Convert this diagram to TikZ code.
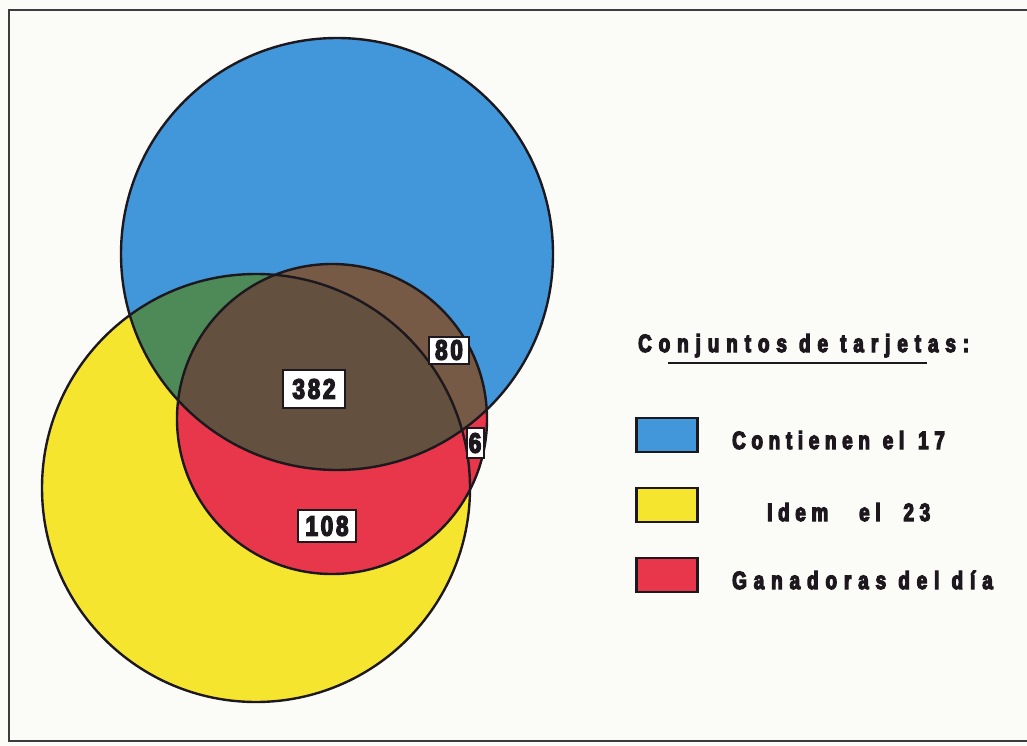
\documentclass[tikz,border=0pt]{standalone}
\usepackage{fontspec}
\setmainfont{Liberation Sans}
\newfontfamily\lblfont{Liberation Sans Bold}[FakeStretch=0.75,LetterSpace=23,FakeBold=5]
\newfontfamily\numfont{Liberation Sans Bold}[FakeStretch=0.8,LetterSpace=10,FakeBold=5]
\definecolor{bg}{RGB}{251,251,247}
\definecolor{blueC}{RGB}{66,150,218}
\definecolor{yellowC}{RGB}{246,229,46}
\definecolor{greenC}{RGB}{78,138,88}
\definecolor{redC}{RGB}{232,54,74}
\definecolor{brownA}{RGB}{100,80,62}
\definecolor{brownB}{RGB}{118,90,70}
\definecolor{inkC}{RGB}{28,24,30}
\tikzset{
  numbox/.style={draw=inkC, fill=white, line width=2pt, inner sep=0pt,
    font=\numfont\fontsize{28}{28}\selectfont, text=inkC},
  legtext/.style={anchor=base west, inner sep=0pt, text=inkC,
    font=\lblfont\fontsize{25}{25}\selectfont},
  swatch/.style={draw=inkC, line width=2.2pt, minimum width=61pt, minimum height=34pt, inner sep=0pt},
  outline/.style={draw=inkC, line width=2.4pt}
}
\begin{document}
\begin{tikzpicture}[x=1pt,y=-1pt]
\useasboundingbox (0,0) rectangle (1027,746);
\fill[bg] (0,0) rectangle (1027,746);
% frame
\draw[inkC!85, line width=2.4pt] (1027,10) -- (9,10) -- (9,741) -- (1027,741);
% circle centres
\coordinate (B) at (337,254);
\coordinate (Y) at (256,488);
\coordinate (R) at (332,419);
% fills
\fill[yellowC] (Y) circle[radius=214pt];
\fill[blueC] (B) circle[radius=216pt];
\begin{scope}
  \clip (B) circle[radius=216pt];
  \fill[greenC] (Y) circle[radius=214pt];
\end{scope}
\fill[redC] (R) circle[radius=155pt];
\begin{scope}
  \clip (R) circle[radius=155pt];
  \fill[brownB] (B) circle[radius=216pt];
  \clip (B) circle[radius=216pt];
  \fill[brownA] (Y) circle[radius=214pt];
\end{scope}
% outlines
\draw[outline] (Y) circle[radius=214pt];
\draw[outline] (B) circle[radius=216pt];
\draw[outline] (R) circle[radius=155pt];
% number labels
\node[numbox, minimum width=62pt, minimum height=38pt] (n382) at (314,389) {382};
\node[numbox, minimum width=40pt, minimum height=27pt] (n80) at (449,350) {80};
\node[numbox, minimum width=17pt, minimum height=30pt] (n6) at (475,443) {6};
\node[numbox, minimum width=58pt, minimum height=32pt] (n108) at (327,526) {108};
% legend
\node[legtext, font=\lblfont\addfontfeature{LetterSpace=28}\fontsize{25}{25}\selectfont] (title) at (638,352) {Conjuntos de tarjetas:};
\coordinate (ul1) at (668,363);
\coordinate (ul2) at (927,363);
\draw[inkC, line width=2.2pt] (ul1) -- (ul2);
\node[swatch, fill=blueC] (s1) at (667,435) {};
\node[swatch, fill=yellowC] (s2) at (667,505) {};
\node[swatch, fill=redC] (s3) at (667,575) {};
\node[legtext] (t1) at (732,449) {Contienen\hspace{2pt} el\hspace{3pt} 17};
\node[legtext] (t2) at (767,521) {Idem\hspace{20pt} el\hspace{12pt} 23};
\node[legtext, font=\lblfont\addfontfeature{LetterSpace=28}\fontsize{25}{25}\selectfont] (t3) at (732,589) {Ganadoras del día};
\end{tikzpicture}
\end{document}
